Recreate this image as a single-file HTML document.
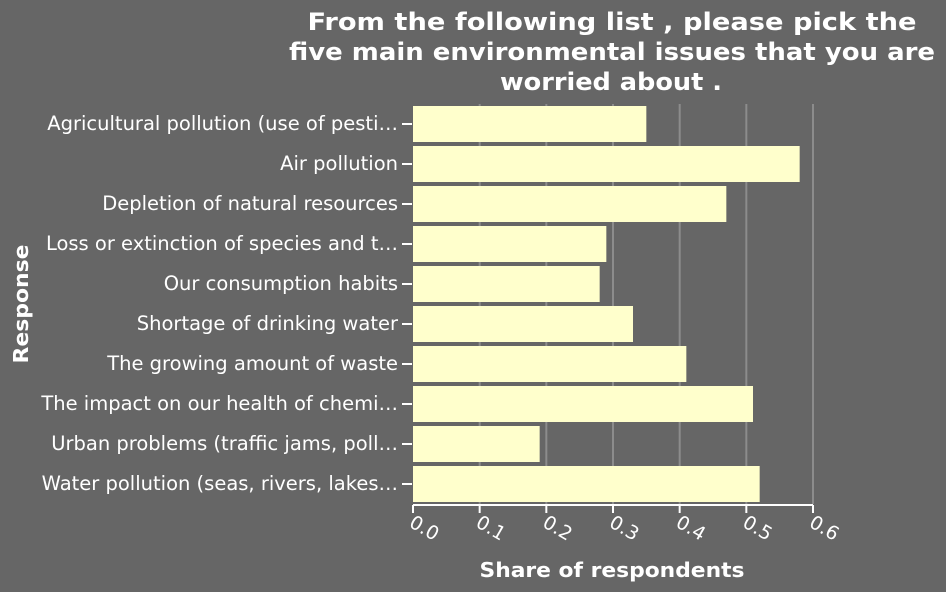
<!DOCTYPE html>
<html><head><meta charset="utf-8"><style>
body{margin:0;background:#666666;}
svg{display:block;font-family:"DejaVu Sans","Liberation Sans",sans-serif;}
</style></head><body>
<svg width="946" height="592" id="c">
<rect width="946" height="592" fill="#666666"/>
<text fill="#fff" font-size="24" font-weight="bold" text-anchor="middle"><tspan x="612" y="30" textLength="609" lengthAdjust="spacingAndGlyphs">From the following list , please pick the</tspan><tspan x="612" y="60" textLength="646" lengthAdjust="spacingAndGlyphs">five main environmental issues that you are</tspan><tspan x="611" y="90" textLength="222" lengthAdjust="spacingAndGlyphs">worried about .</tspan></text>
<text x="612" y="577" fill="#fff" font-size="20" font-weight="bold" text-anchor="middle" textLength="265" lengthAdjust="spacingAndGlyphs">Share of respondents</text>
<text transform="translate(28,304) rotate(-90)" fill="#fff" font-size="20" font-weight="bold" text-anchor="middle" textLength="119" lengthAdjust="spacingAndGlyphs">Response</text>
<g id="plot"></g>
</svg>
<script>
const categories=["Agricultural pollution (use of pesti…","Air pollution","Depletion of natural resources","Loss or extinction of species and t…","Our consumption habits","Shortage of drinking water","The growing amount of waste","The impact on our health of chemi…","Urban problems (traffic jams, poll…","Water pollution (seas, rivers, lakes…"];
const values=[0.35,0.58,0.47,0.29,0.28,0.33,0.41,0.51,0.19,0.52];
const ticks=[0,0.1,0.2,0.3,0.4,0.5,0.6];
const tickLabels=["0.0","0.1","0.2","0.3","0.4","0.5","0.6"];
const X0=413,X1=813,Y0=104,Y1=504;
const xs=v=>X0+(v/0.6)*(X1-X0);
const band=(Y1-Y0)/categories.length;
const ys=i=>Y0+i*band;
const g=document.getElementById('plot');
const NS="http://www.w3.org/2000/svg";
function mk(t,a){const e=document.createElementNS(NS,t);for(const k in a)e.setAttribute(k,a[k]);g.appendChild(e);return e;}
ticks.forEach((t,i)=>{
 if(i>0){const l=mk('line',{x1:xs(t),x2:xs(t),y1:Y0,y2:Y1,stroke:'#8c8c8c','stroke-width':2});
 
 }
});
categories.forEach((c,i)=>{
 const r=mk('rect',{x:X0,y:ys(i)+2,width:xs(values[i])-X0,height:band-4,fill:'#ffffcc'});
 
 
 const cy=ys(i)+band/2;
 const tk=mk('line',{x1:402,x2:412,y1:cy,y2:cy,stroke:'#fff','stroke-width':2});
 
 
 const tx=mk('text',{x:398,y:cy+6,fill:'#fff','font-size':19.5,'text-anchor':'end'});
 tx.textContent=c;
 
 
});
const ax=mk('line',{x1:X0,x2:X1,y1:505,y2:505,stroke:'#fff','stroke-width':2});


ticks.forEach((t,i)=>{
 const l=mk('line',{x1:xs(t),x2:xs(t),y1:505,y2:513,stroke:'#fff','stroke-width':2});
 
 
 const tx=mk('text',{x:0,y:0,fill:'#fff','font-size':19,transform:`translate(${xs(t)-5},${526}) rotate(30)`});
 tx.textContent=tickLabels[i];
 
 
});
</script>
</body></html>
